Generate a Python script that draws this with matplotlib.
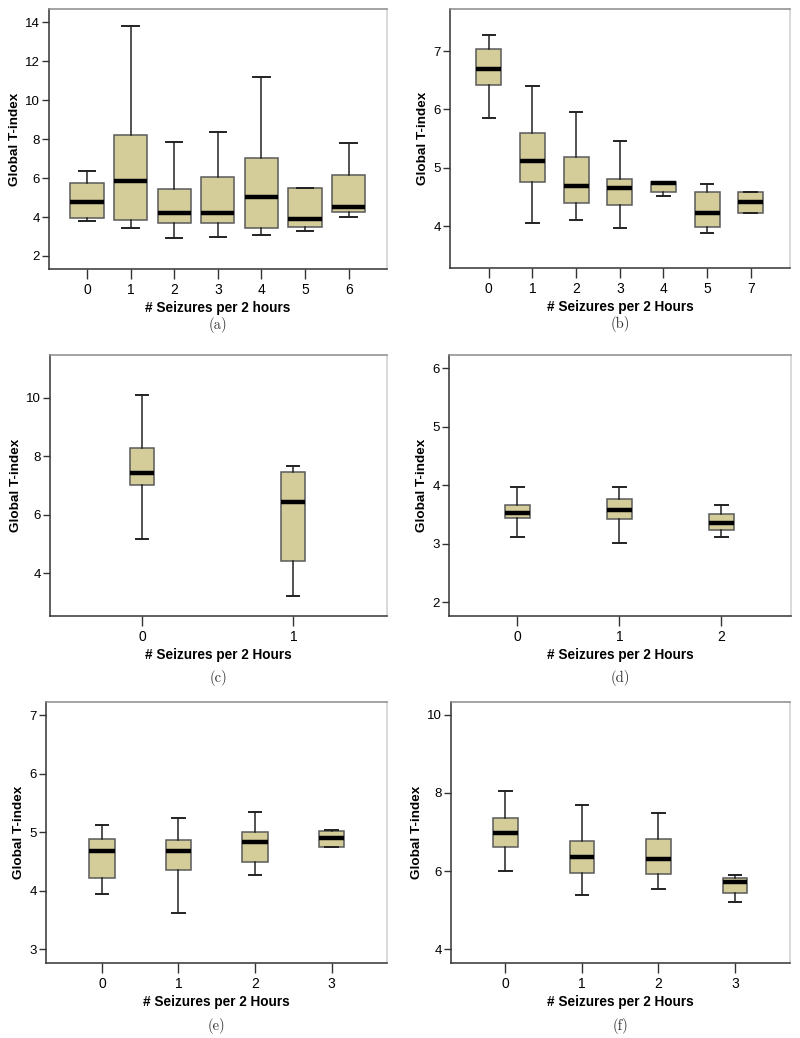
import matplotlib
matplotlib.use('Agg')
import matplotlib.pyplot as plt

# per-panel data: category labels and (whislo, q1, med, q3, whishi) per box
labels_a = ['0', '1', '2', '3', '4', '5', '6']
lo_a  = [3.81, 3.45, 2.94, 2.99, 3.08, 3.30, 4.00]
q1_a  = [3.93, 3.85, 3.67, 3.67, 3.42, 3.50, 4.24]
med_a = [4.75, 5.85, 4.19, 4.19, 5.01, 3.88, 4.51]
q3_a  = [5.76, 8.21, 5.42, 6.04, 7.05, 5.51, 6.16]
hi_a  = [6.38, 13.83, 7.84, 8.35, 11.21, 5.51, 7.80]

labels_b = ['0', '1', '2', '3', '4', '5', '7']
lo_b  = [5.85, 4.06, 4.10, 3.97, 4.52, 3.88, 4.22]
q1_b  = [6.41, 4.76, 4.40, 4.36, 4.59, 3.98, 4.22]
med_b = [6.69, 5.12, 4.69, 4.66, 4.73, 4.22, 4.41]
q3_b  = [7.03, 5.59, 5.19, 4.81, 4.76, 4.59, 4.59]
hi_b  = [7.28, 6.40, 5.96, 5.46, 4.76, 4.72, 4.59]

labels_c = ['0', '1']
lo_c  = [5.18, 3.23]
q1_c  = [7.04, 4.44]
med_c = [7.44, 6.46]
q3_c  = [8.29, 7.46]
hi_c  = [10.09, 7.68]

labels_d = ['0', '1', '2']
lo_d  = [3.11, 3.01, 3.11]
q1_d  = [3.44, 3.43, 3.24]
med_d = [3.53, 3.57, 3.36]
q3_d  = [3.66, 3.77, 3.51]
hi_d  = [3.97, 3.97, 3.66]

labels_e = ['0', '1', '2', '3']
lo_e  = [3.94, 3.63, 4.27, 4.75]
q1_e  = [4.22, 4.35, 4.49, 4.75]
med_e = [4.68, 4.68, 4.83, 4.90]
q3_e  = [4.89, 4.87, 5.01, 5.02]
hi_e  = [5.13, 5.25, 5.35, 5.04]

labels_f = ['0', '1', '2', '3']
lo_f  = [6.00, 5.38, 5.55, 5.20]
q1_f  = [6.62, 5.96, 5.93, 5.44]
med_f = [6.98, 6.37, 6.31, 5.73]
q3_f  = [7.35, 6.76, 6.82, 5.83]
hi_f  = [8.05, 7.70, 7.48, 5.90]

yticks_a = [2, 4, 6, 8, 10, 12, 14]
yticks_b = [4, 5, 6, 7]
yticks_c = [4, 6, 8, 10]
yticks_d = [2, 3, 4, 5, 6]
yticks_e = [3, 4, 5, 6, 7]
yticks_f = [4, 6, 8, 10]

xlabel_lower = '# Seizures per 2 hours'
xlabel_upper = '# Seizures per 2 Hours'
ylabel = 'Global T-index'

box_fill = '#d4cd9a'
box_edge = '#5a5a5a'

fig = plt.figure(figsize=(8, 10.38), dpi=100)

panels = [
    # rect, labels, stats, yticks, ylim, xlim, width, xlabel, caption, caption y
    ([0.0613, 0.7408, 0.4225, 0.2505], labels_a, (lo_a, q1_a, med_a, q3_a, hi_a),
     yticks_a, (1.33, 14.68), (-0.87, 6.88), 0.76, xlabel_lower, '(a)', -0.185),
    ([0.5625, 0.7418, 0.4250, 0.2495], labels_b, (lo_b, q1_b, med_b, q3_b, hi_b),
     yticks_b, (3.28, 7.72), (-0.89, 6.9), 0.57, xlabel_upper, '(b)', -0.185),
    ([0.0625, 0.4069, 0.4213, 0.2512], labels_c, (lo_c, q1_c, med_c, q3_c, hi_c),
     yticks_c, (2.56, 11.47), (-0.61, 1.62), 0.16, xlabel_upper, '(c)', -0.21),
    ([0.5613, 0.4069, 0.4271, 0.2512], labels_d, (lo_d, q1_d, med_d, q3_d, hi_d),
     yticks_d, (1.77, 6.23), (-0.67, 2.68), 0.245, xlabel_upper, '(d)', -0.21),
    ([0.0575, 0.0723, 0.4259, 0.2512], labels_e, (lo_e, q1_e, med_e, q3_e, hi_e),
     yticks_e, (2.77, 7.22), (-0.73, 3.72), 0.33, xlabel_upper, '(e)', -0.21),
    ([0.5638, 0.0723, 0.4238, 0.2512], labels_f, (lo_f, q1_f, med_f, q3_f, hi_f),
     yticks_f, (3.65, 10.32), (-0.71, 3.72), 0.32, xlabel_upper, '(f)', -0.21),
]

for rect, labels, stats, yticks, ylim, xlim, width, xlabel, caption, cap_y in panels:
    ax = fig.add_axes(rect)
    lo, q1, med, q3, hi = stats
    bxp = []
    for i in range(len(labels)):
        bxp.append({'whislo': lo[i], 'q1': q1[i], 'med': med[i],
                    'q3': q3[i], 'whishi': hi[i], 'fliers': [], 'label': labels[i]})
    pos = list(range(len(labels)))
    ax.bxp(bxp, positions=pos, widths=width, capwidths=width * 0.5,
           patch_artist=True, showfliers=False,
           boxprops=dict(facecolor=box_fill, edgecolor=box_edge, linewidth=1.1),
           medianprops=dict(color='black', linewidth=3.2, solid_capstyle='butt'),
           whiskerprops=dict(color='#222222', linewidth=1.1),
           capprops=dict(color='#222222', linewidth=1.4))
    ax.set_xlim(xlim)
    ax.set_ylim(ylim)
    ax.set_yticks(yticks)
    ax.set_yticklabels([str(t) for t in yticks], fontfamily='Liberation Sans', fontsize=9.5)
    ax.set_xticks(pos)
    ax.set_xticklabels(labels, fontfamily='Liberation Sans', fontsize=10)
    ax.tick_params(axis='y', direction='out', length=5, width=1, color='#333333', pad=1.5)
    ax.tick_params(axis='x', direction='out', length=7, width=1, color='#333333', pad=3)
    ax.spines['left'].set_color('#333333')
    ax.spines['bottom'].set_color('#333333')
    ax.spines['top'].set_color('#8a8a8a')
    ax.spines['right'].set_color('#cfcfcf')
    for s in ax.spines.values():
        s.set_linewidth(1.1)
    ax.set_xlabel(xlabel, fontfamily='Liberation Sans', fontweight='bold', fontsize=9.8, labelpad=3)
    ax.set_ylabel(ylabel, fontfamily='Liberation Sans', fontweight='bold', fontsize=9.7, labelpad=3)
    # sub-figure caption below the axes
    ax.text(0.5, cap_y, caption, transform=ax.transAxes, ha='center', va='top',
            fontfamily='cmr10', fontsize=10.5, color='#333333')

fig.savefig('out.png', dpi=100)
